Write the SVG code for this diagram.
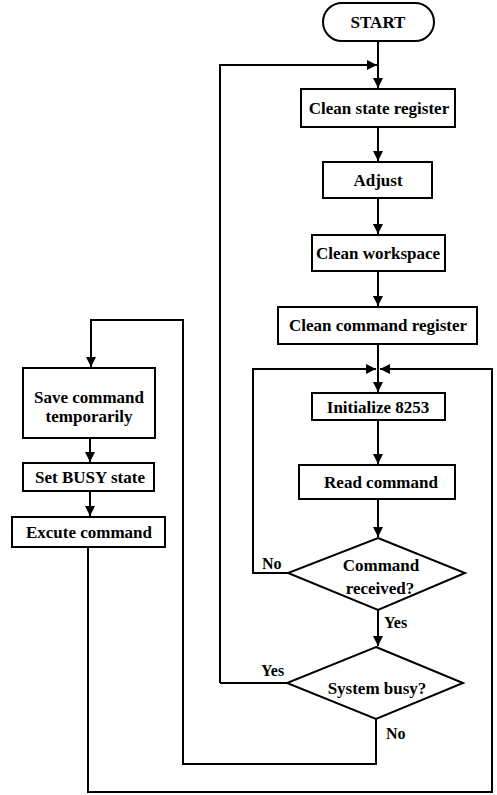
<svg xmlns="http://www.w3.org/2000/svg" width="497" height="795" viewBox="0 0 497 795">
<style>
.b{fill:#fff;stroke:#000;stroke-width:2}
.t{font-family:"Liberation Serif","Times New Roman",serif;font-weight:bold;font-size:17px;fill:#000;text-anchor:middle}
.l{font-family:"Liberation Serif","Times New Roman",serif;font-weight:bold;font-size:16px;fill:#000}
.c{fill:none;stroke:#000;stroke-width:2}
</style>
<defs>
<marker id="a" viewBox="0 0 10 10" refX="10" refY="5" markerWidth="5" markerHeight="5" orient="auto" markerUnits="strokeWidth">
<path d="M0,0 L10,5 L0,10 z" fill="#000"/>
</marker>
</defs>
<rect width="497" height="795" fill="#fff"/>
<g id="connectors">
<path class="c" d="M378,41 V88" marker-end="url(#a)"/>
<path class="c" d="M220,683 V65 H377" marker-end="url(#a)"/>
<path class="c" d="M378,127 V161" marker-end="url(#a)"/>
<path class="c" d="M378,198 V234" marker-end="url(#a)"/>
<path class="c" d="M378,271 V306" marker-end="url(#a)"/>
<path class="c" d="M378,344 V392" marker-end="url(#a)"/>
<path class="c" d="M288,573 H253 V369 H376" marker-end="url(#a)"/>
<path class="c" d="M88,547 V792 H492 V369 H380" marker-end="url(#a)"/>
<path class="c" d="M378,420 V464" marker-end="url(#a)"/>
<path class="c" d="M378,499 V537" marker-end="url(#a)"/>
<path class="c" d="M378,610 V646" marker-end="url(#a)"/>
<path class="c" d="M287,683 H220"/>
<path class="c" d="M376,719 V764 H183 V320 H91 V367" marker-end="url(#a)"/>
<path class="c" d="M90,438 V462" marker-end="url(#a)"/>
<path class="c" d="M90,491 V516" marker-end="url(#a)"/>
<text class="l" x="262" y="569">No</text>
<text class="l" x="384" y="628">Yes</text>
<text class="l" x="261" y="676">Yes</text>
<text class="l" x="386" y="739">No</text>
</g>
<g id="start"><rect class="b" x="323" y="3" width="111" height="38" rx="19"/><text class="t" x="378" y="28">START</text></g>
<g id="clean-state"><rect class="b" x="301" y="89" width="154" height="38"/><text class="t" x="379" y="114">Clean state register</text></g>
<g id="adjust"><rect class="b" x="323" y="162" width="109" height="36"/><text class="t" x="378" y="186">Adjust</text></g>
<g id="clean-workspace"><rect class="b" x="312" y="235" width="133" height="36"/><text class="t" x="378" y="259">Clean workspace</text></g>
<g id="clean-command"><rect class="b" x="278" y="307" width="199" height="37"/><text class="t" x="378" y="331">Clean command register</text></g>
<g id="init8253"><rect class="b" x="312" y="393" width="133" height="27"/><text class="t" x="378" y="413">Initialize 8253</text></g>
<g id="read-command"><rect class="b" x="299" y="465" width="156" height="34"/><text class="t" x="381" y="488">Read command</text></g>
<g id="command-received"><path class="b" d="M378,538 L465,573 L378,610 L288,573 Z"/><text class="t" x="381" y="571">Command</text><text class="t" x="380" y="594">received?</text></g>
<g id="system-busy"><path class="b" d="M376,647 L463,683 L376,719 L287,683 Z"/><text class="t" x="377" y="694">System busy?</text></g>
<g id="save-command"><rect class="b" x="23" y="368" width="132" height="70"/><text class="t" x="89" y="403">Save command</text><text class="t" x="89" y="422">temporarily</text></g>
<g id="set-busy"><rect class="b" x="23" y="463" width="131" height="28"/><text class="t" x="90" y="483">Set BUSY state</text></g>
<g id="execute"><rect class="b" x="12" y="517" width="153" height="30"/><text class="t" x="89" y="538">Excute command</text></g>
</svg>
